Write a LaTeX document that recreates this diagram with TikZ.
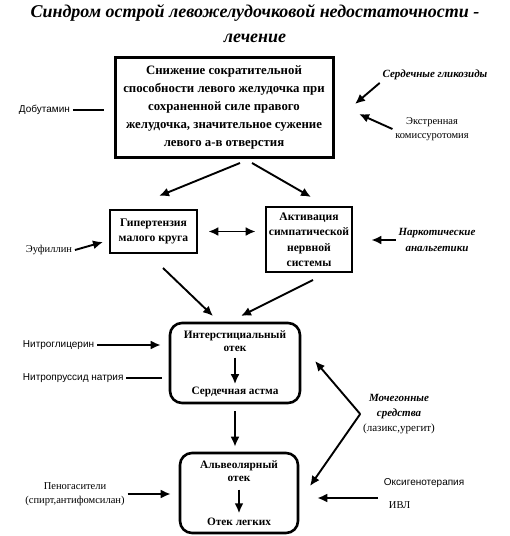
\documentclass[tikz,border=0pt]{standalone}
\usepackage{fontspec}
\setmainfont{Liberation Serif}
\newfontfamily\sanslabel{Liberation Sans}
\usepackage{tikz}
\usetikzlibrary{shapes,arrows.meta}
\usetikzlibrary{positioning}

\begin{document}
\begin{tikzpicture}[x=1pt, y=-1pt, >={Latex[length=10pt,width=9pt]}, line width=1.9pt]
\tikzstyle{block} = [draw, rectangle, line width=3pt, align=center,
    inner sep=0pt, font=\fontsize{12.8}{18}\selectfont\bfseries]
\tikzstyle{smallblock} = [draw, rectangle, line width=2.8pt, align=center,
    inner sep=0pt, font=\fontsize{11.6}{15.5}\selectfont\bfseries]
\tikzstyle{roundblock} = [draw, rectangle, rounded corners=12pt, line width=2.6pt]
\tikzstyle{boxtext} = [align=center, inner sep=2pt,
    font=\fontsize{11.3}{13.5}\selectfont\bfseries]
\tikzstyle{drug} = [align=center, inner sep=2pt,
    font=\fontsize{10}{14}\selectfont\sanslabel]
\tikzstyle{thindrug} = [align=center, inner sep=2pt,
    font=\fontsize{10.5}{14}\selectfont]
\tikzstyle{boldlabel} = [align=center, inner sep=2pt,
    font=\fontsize{11}{16}\selectfont\bfseries\itshape]
\useasboundingbox (0,0) rectangle (510,536);
    % We start by placing the title and the blocks
    \node [align=center, font=\fontsize{18}{25}\selectfont\bfseries\itshape]
        (title) at (255,24) {Синдром острой левожелудочковой недостаточности -\\лечение};
    \node [block, minimum width=218pt, minimum height=100pt] (main) at (224,107)
        {Снижение сократительной\\способности левого желудочка при\\сохраненной силе правого\\желудочка, значительное сужение\\левого а-в отверстия};
    \node [smallblock, minimum width=87pt, minimum height=43pt] (hyper) at (153.5,231.5)
        {Гипертензия\\малого круга};
    \node [smallblock, minimum width=86pt, minimum height=65pt] (activ) at (309,239.5)
        {Активация\\симпатической\\нервной\\системы};
    \node [roundblock, minimum width=130pt, minimum height=80pt] (inter) at (235,363) {};
    \node [boxtext] (interTop) at (235,341) {Интерстициальный\\отек};
    \node [boxtext] (interBot) at (235,392) {Сердечная астма};
    \node [roundblock, minimum width=118pt, minimum height=80pt] (alveo) at (239,493) {};
    \node [boxtext] (alveoTop) at (239,471) {Альвеолярный\\отек};
    \node [boxtext] (alveoBot) at (239,522) {Отек легких};

    % The drugs around the blocks
    \node [drug, anchor=west] (dobut) at (16,110) {Добутамин};
    \node [boldlabel] (glyk) at (435,75) {Сердечные гликозиды};
    \node [thindrug] (komis) at (432,129) {Экстренная\\комиссуротомия};
    \node [thindrug, anchor=west] (euf) at (23,250) {Эуфиллин};
    \node [boldlabel] (narc) at (437,240) {Наркотические\\анальгетики};
    \node [drug, anchor=west] (nitro) at (20,345) {Нитроглицерин};
    \node [drug, anchor=west] (nitrop) at (20,378) {Нитропруссид натрия};
    \node [boldlabel, font=\fontsize{11}{15}\selectfont] (diur) at (399,414)
        {\bfseries\itshape Мочегонные\\\bfseries\itshape средства\\(лазикс,урегит)};
    \node [thindrug] (peno) at (75,494) {Пеногасители\\(спирт,антифомсилан)};
    \node [drug, anchor=west] (oxy) at (381,483) {Оксигенотерапия};
    \node [thindrug, anchor=west] (ivl) at (386,505) {ИВЛ};

    % Free ends of the connectors
    \coordinate (dobutEnd) at (104,110);
    \coordinate (glykTip) at (355,104);
    \coordinate (komisTip) at (359,114);
    \coordinate (mainL) at (240,163);
    \coordinate (mainR) at (252,163);
    \coordinate (hyperIn) at (159,196);
    \coordinate (activIn) at (311,197);
    \coordinate (eufTip) at (103,242);
    \coordinate (hyperOut) at (163,268);
    \coordinate (activOut) at (313,280);
    \coordinate (interInL) at (213,316);
    \coordinate (interInR) at (241,316);
    \coordinate (diurTipA) at (315,361);
    \coordinate (diurTipB) at (310,486);
    \coordinate (oxyStart) at (378,498);

    % Once the nodes are placed, connecting them is easy.
    \draw (dobut) -- (dobutEnd);
    \draw [->] (glyk.south west) -- (glykTip);
    \draw [->] (komis.west) -- (komisTip);
    \draw [->] (mainL) -- (hyperIn);
    \draw [->] (mainR) -- (activIn);
    \draw [<->, shorten <=10pt, shorten >=9pt] (hyper.east) -- (hyper.east -| activ.west);
    \draw [->] (euf.east) -- (eufTip);
    \draw [->, shorten >=18pt] (narc.west) -- (narc.west -| activ.east);
    \draw [->] (hyperOut) -- (interInL);
    \draw [->] (activOut) -- (interInR);
    \draw [->, shorten <=3pt] (interTop) -- (interBot);
    \draw [->, shorten <=7pt, shorten >=5pt] (inter.south) -- (inter.south |- alveo.north);
    \draw [->, shorten <=5pt, shorten >=2pt] (alveoTop) -- (alveoBot);
    \draw [->, shorten >=8pt] (nitro.east) -- (nitro.east -| inter.west);
    \draw [shorten >=7pt] (nitrop.east) -- (nitrop.east -| inter.west);
    \draw [->] (diur.west) -- (diurTipA);
    \draw [->] (diur.west) -- (diurTipB);
    \draw [->, shorten >=8pt] (peno.east) -- (peno.east -| alveo.west);
    \draw [->, shorten >=18pt] (oxyStart) -- (oxyStart -| alveo.east);
\end{tikzpicture}
\end{document}
